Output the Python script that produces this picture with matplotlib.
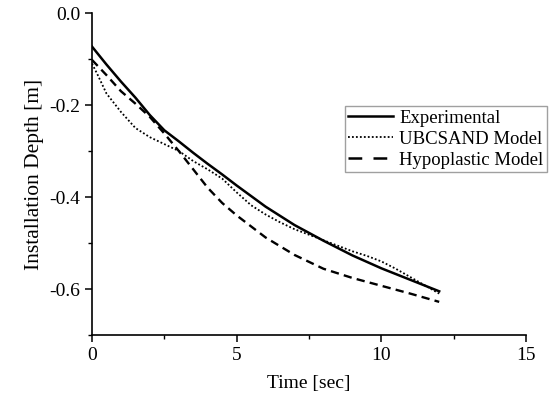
import numpy as np
import matplotlib
matplotlib.use("Agg")
import matplotlib.pyplot as plt
from matplotlib.lines import Line2D
from matplotlib.ticker import MultipleLocator

plt.rcParams['font.family'] = ['Liberation Serif', 'DejaVu Serif']
plt.rcParams['font.size'] = 14

# Experimental curve
exp_t = [0, 0.5, 1, 1.5, 2, 2.5, 3, 3.5, 4, 4.5, 5, 6, 7, 8, 9, 10, 11, 12]
exp_d = [-0.073, -0.112, -0.149, -0.184, -0.222, -0.255, -0.279, -0.304, -0.328,
         -0.351, -0.375, -0.421, -0.461, -0.495, -0.527, -0.555, -0.58, -0.605]

# UBCSAND model
ubc_t = [0, 0.2, 0.5, 1, 1.5, 2, 2.5, 3, 3.5, 4, 4.5, 5, 5.5, 6, 6.5, 7, 7.5,
         8, 8.5, 9, 9.5, 10, 10.5, 11, 11.5, 12]
ubc_d = [-0.11, -0.135, -0.175, -0.215, -0.25, -0.27, -0.285, -0.3, -0.322, -0.34,
         -0.36, -0.39, -0.418, -0.438, -0.455, -0.47, -0.482, -0.494, -0.506,
         -0.518, -0.528, -0.54, -0.556, -0.574, -0.592, -0.61]

# Hypoplastic model
hyp_t = [0, 0.5, 1, 1.5, 2, 2.5, 3, 3.5, 4, 4.5, 5, 6, 7, 8, 9, 10, 11, 12]
hyp_d = [-0.102, -0.135, -0.17, -0.197, -0.226, -0.262, -0.3, -0.34, -0.38, -0.413,
         -0.44, -0.488, -0.526, -0.556, -0.576, -0.593, -0.61, -0.628]

fig = plt.figure(figsize=(5.49, 3.98), dpi=100)
ax = fig.add_axes([92/549, 1-335/398, (526-92)/549, (335-13)/398])

ax.plot(exp_t, exp_d, color='black', lw=1.8)
ax.plot(ubc_t, ubc_d, color='black', lw=1.3, ls=(0, (1, 1.2)))
ax.plot(hyp_t, hyp_d, color='black', lw=1.7, ls=(0, (3.5, 2.2)))

ax.set_xlim(0, 15)
ax.set_ylim(-0.7, 0.0)
ax.xaxis.set_major_locator(MultipleLocator(5))
ax.xaxis.set_minor_locator(MultipleLocator(2.5))
ax.yaxis.set_major_locator(MultipleLocator(0.2))
ax.yaxis.set_minor_locator(MultipleLocator(0.1))
ax.set_yticks([0.0, -0.2, -0.4, -0.6])
ax.set_yticklabels(['0.0', '-0.2', '-0.4', '-0.6'])
ax.tick_params(which='major', direction='out', length=5, width=1.1, labelsize=14)
ax.tick_params(which='minor', direction='out', length=3, width=1.0)
for s in ['top', 'right']:
    ax.spines[s].set_visible(False)
for s in ['left', 'bottom']:
    ax.spines[s].set_linewidth(1.2)

ax.set_xlabel('Time [sec]', fontsize=14, labelpad=8)
ax.set_ylabel('Installation Depth [m]', fontsize=15.5, labelpad=4)

# legend proxies (legend dashes are drawn longer than in the plot)
handles = [Line2D([], [], color='black', lw=1.8),
           Line2D([], [], color='black', lw=1.3, ls=(0, (1, 1.2))),
           Line2D([], [], color='black', lw=1.8, ls=(0, (5.5, 4.5)))]
labels = ['Experimental', 'UBCSAND Model', 'Hypoplastic Model']
leg = ax.legend(handles, labels, loc='upper right', bbox_to_anchor=(547/549, 1-106/398),
                bbox_transform=fig.transFigure, frameon=True, fancybox=False,
                fontsize=13.5, handlelength=2.4, handletextpad=0.3, borderpad=0.2,
                labelspacing=0.2, borderaxespad=0)
leg.get_frame().set_edgecolor('#888888')
leg.get_frame().set_linewidth(1.0)

plt.savefig('out.png', dpi=100)
